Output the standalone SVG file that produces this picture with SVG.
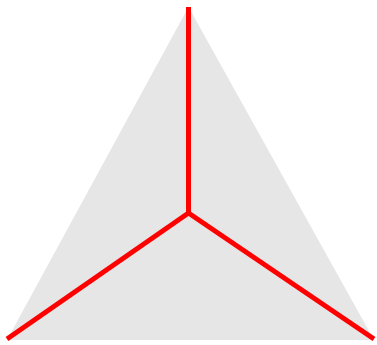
<svg xmlns="http://www.w3.org/2000/svg" width="377" height="345" viewBox="0 0 377 345">
<style>.edge{stroke:#ff0000;stroke-width:5;fill:none}</style>
<rect width="377" height="345" fill="#ffffff"/>
<g id="triangle"><polygon points="188.5,7 7,340 374,340" fill="#e6e6e6"/></g>
<g id="connectors">
<line class="edge" x1="188.5" y1="213" x2="188.5" y2="7"/>
<line class="edge" x1="188.5" y1="213" x2="7" y2="339"/>
<line class="edge" x1="188.5" y1="213" x2="374" y2="339"/>
</g>
</svg>
